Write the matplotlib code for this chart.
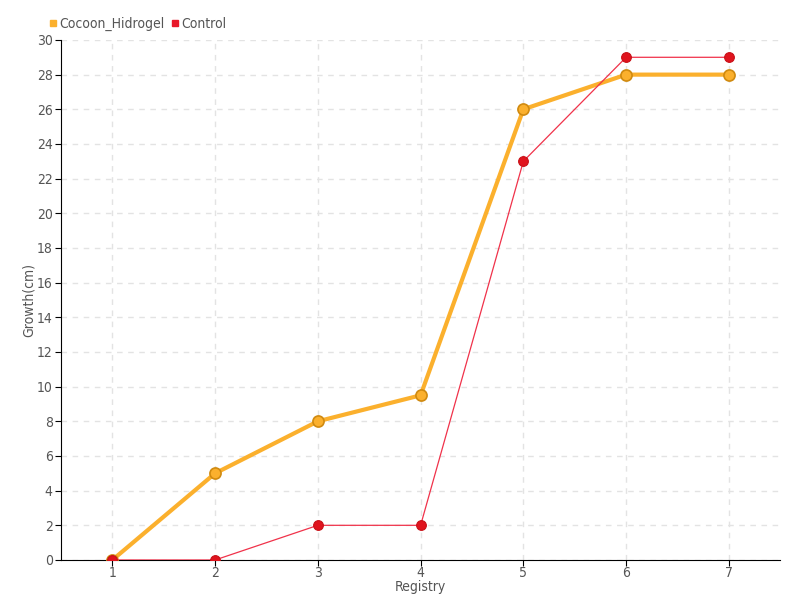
import matplotlib
matplotlib.use('Agg')
import matplotlib.pyplot as plt
from matplotlib.lines import Line2D

registry = [1, 2, 3, 4, 5, 6, 7]
cocoon_hidrogel = [0, 5, 8, 9.5, 26, 28, 28]
control = [0, 0, 2, 2, 23, 29, 29]
y_ticks = list(range(0, 31, 2))

plt.rcParams['font.family'] = ['DejaVu Sans']
plt.rcParams['font.stretch'] = 'condensed'
text_color = '#555555'

fig = plt.figure(figsize=(8, 6), dpi=100, facecolor='white')
ax = fig.add_axes([0.07625, 0.0667, 0.899, 0.8667])

ax.plot(registry, cocoon_hidrogel, color='#fbb02d', linewidth=3, marker='o',
        markersize=8, markerfacecolor='#fbb02d', markeredgecolor='#d08a10',
        markeredgewidth=1.2, zorder=3)
ax.plot(registry, control, color='#f0324a', linewidth=0.9, marker='o',
        markersize=7, markerfacecolor='#e0141e', markeredgecolor='#c81018',
        markeredgewidth=0.8, zorder=4)

ax.set_xlim(0.5, 7.5)
ax.set_ylim(0, 30)
ax.set_xticks(registry)
ax.set_yticks(y_ticks)
ax.tick_params(colors=text_color, labelsize=10, length=4)
ax.tick_params(axis='both', color='black')
ax.tick_params(axis='x', pad=0)
ax.tick_params(axis='y', pad=2)
ax.grid(True, color='#e3e3e3', linestyle=(0, (4, 4)), linewidth=1)
ax.set_axisbelow(True)
for side in ['top', 'right']:
    ax.spines[side].set_visible(False)
for side in ['left', 'bottom']:
    ax.spines[side].set_color('black')

ax.set_xlabel('Registry', color=text_color, fontsize=10, labelpad=0)
ax.set_ylabel('Growth(cm)', color=text_color, fontsize=10, labelpad=1)

handles = [
    Line2D([], [], linestyle='none', marker='s', markersize=5, color='#fbb02d'),
    Line2D([], [], linestyle='none', marker='s', markersize=5, color='#e8182a'),
]
fig.legend(handles, ['Cocoon_Hidrogel', 'Control'], loc='upper left',
           bbox_to_anchor=(0.045, 0.993), ncol=2, frameon=False, fontsize=10,
           labelcolor=text_color, handlelength=0.6, handletextpad=0.2,
           columnspacing=0.4)

plt.savefig('out.png', dpi=100, facecolor='white')
plt.close()
